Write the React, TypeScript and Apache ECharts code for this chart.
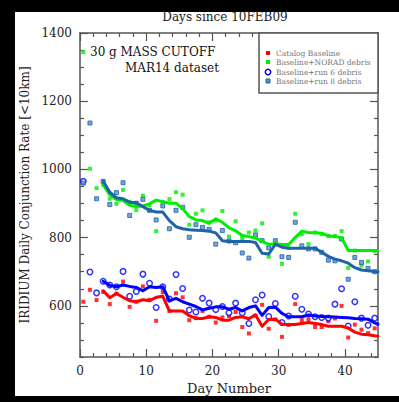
import React, { useEffect, useRef } from 'react';
import * as echarts from 'echarts';

const FONT = 'DejaVu Serif';

// x positions of daily samples (day + 0.5)
const days = [0.5, 1.5, 2.5, 3.5, 4.5, 5.5, 6.5, 7.5, 8.5, 9.5, 10.5, 11.5, 12.5, 13.5, 14.5, 15.5, 16.5, 17.5, 18.5, 19.5, 20.5, 21.5, 22.5, 23.5, 24.5, 25.5, 26.5, 27.5, 28.5, 29.5, 30.5, 31.5, 32.5, 33.5, 34.5, 35.5, 36.5, 37.5, 38.5, 39.5, 40.5, 41.5, 42.5, 43.5, 44.5];

const catalogPts = [612, 647, 617, 641, 605, 636, 671, 597, 612, 657, 618, 556, 640, 585, 637, 625, 558, 564, 585, 568, 551, 566, 570, 582, 538, 519, 571, 603, 533, 560, 509, 544, 605, 558, 560, 538, 538, 555, 563, 600, 507, 545, 530, 520, 534];
const noradPts = [1344, 1002, 945, 955, 914, 899, 940, 905, 881, 923, 895, 819, 905, 913, 933, 926, 838, 870, 880, 845, 850, 878, 803, 848, 799, 815, 821, 842, 744, 785, 723, 770, 870, 810, 781, 815, 810, 805, 805, 819, 711, 762, 718, 730, 760];
const run6Pts = [965, 699, 638, 672, 661, 656, 701, 628, 642, 693, 666, 595, 656, 620, 692, 651, 588, 582, 622, 608, 589, 598, 580, 608, 580, 548, 618, 632, 569, 607, 551, 570, 628, 590, 576, 568, 566, 564, 605, 650, 541, 612, 564, 543, 564];
const run8Pts = [960, 1136, 914, 965, 897, 932, 961, 865, 901, 912, 880, 852, 893, 826, 880, 889, 801, 838, 830, 824, 781, 821, 790, 785, 755, 740, 808, 791, 770, 791, 744, 742, 845, 776, 767, 767, 757, 734, 732, 796, 678, 742, 727, 710, 700];

// running-average curves
const lineDays = [3.5, 4.5, 5.5, 6.5, 7.5, 8.5, 9.5, 10.5, 11.5, 12.5, 13.5, 14.5, 15.5, 16.5, 17.5, 18.5, 19.5, 20.5, 21.5, 22.5, 23.5, 24.5, 25.5, 26.5, 27.5, 28.5, 29.5, 30.5, 31.5, 32.5, 33.5, 34.5, 35.5, 36.5, 37.5, 38.5, 39.5, 40.5, 41.5, 42.5, 43.5, 44.5, 45];
const catalogLine = [644, 624, 636, 625, 615, 612, 618, 615, 625, 628, 585, 585, 585, 571, 563, 563, 568, 566, 558, 558, 566, 568, 562, 574, 540, 560, 561, 546, 545, 545, 548, 551, 548, 545, 540, 540, 540, 535, 523, 517, 515, 512, 511];
const noradLine = [955, 925, 912, 909, 895, 891, 893, 899, 910, 905, 901, 901, 885, 862, 852, 850, 842, 855, 845, 829, 820, 806, 803, 799, 789, 780, 782, 780, 780, 800, 819, 815, 814, 813, 805, 803, 800, 762, 762, 762, 762, 762, 762];
const run6Line = [672, 660, 656, 661, 657, 654, 644, 656, 654, 656, 615, 622, 612, 605, 598, 588, 593, 597, 597, 590, 595, 585, 595, 600, 572, 595, 596, 578, 568, 568, 568, 573, 570, 569, 568, 567, 566, 565, 563, 562, 561, 550, 546];
const run8Line = [966, 933, 917, 914, 904, 902, 891, 880, 875, 875, 850, 832, 826, 823, 822, 821, 819, 814, 791, 789, 789, 789, 789, 786, 754, 752, 780, 772, 769, 769, 769, 769, 769, 757, 745, 737, 732, 725, 712, 705, 703, 701, 700];

const xMajor = [0, 10, 20, 30, 40];
const xMinor = [2, 4, 6, 8, 12, 14, 16, 18, 22, 24, 26, 28, 32, 34, 36, 38, 42, 44];
const yMajor = [600, 800, 1000, 1200, 1400];
const yMinor = [450, 500, 550, 650, 700, 750, 850, 900, 950, 1050, 1100, 1150, 1250, 1300, 1350];

const seriesNames = ['Catalog Baseline', 'Baseline+NORAD debris', 'Baseline+run 6 debris', 'Baseline+run 8 debris'];
const colors = ['#ff0000', '#00ee00', '#0000ff', '#1f64a8'];
const run8Fill = '#5a8fc6';

const AX = '#555';

function zip(xs: number[], ys: number[]) {
  return ys.map((y, i) => [xs[i], y]);
}

const plain = (v: number) => String(v);

function xAx(pos: 'top' | 'bottom', vals: number[], len: number, major: boolean) {
  return {
    type: 'value', min: 0, max: 45, position: pos,
    axisLine: { show: major, onZero: false, lineStyle: { color: AX, width: 1.5 } },
    axisTick: { show: true, inside: true, length: len, customValues: vals, lineStyle: { color: AX, width: 1.2 } },
    axisLabel: major && pos === 'bottom'
      ? { show: true, customValues: xMajor, formatter: plain, fontFamily: FONT, fontSize: 12, color: '#222', margin: 8 }
      : { show: false },
    splitLine: { show: false },
    ...(major && pos === 'bottom'
      ? { name: 'Day Number', nameLocation: 'middle', nameGap: 22, nameTextStyle: { fontFamily: FONT, fontSize: 13, color: '#222' } }
      : {}),
  };
}

function yAx(pos: 'left' | 'right', vals: number[], len: number, major: boolean) {
  return {
    type: 'value', min: 450, max: 1400, position: pos,
    axisLine: { show: major, onZero: false, lineStyle: { color: AX, width: 1.5 } },
    axisTick: { show: true, inside: true, length: len, customValues: vals, lineStyle: { color: AX, width: 1.2 } },
    axisLabel: major && pos === 'left'
      ? { show: true, customValues: yMajor, formatter: plain, fontFamily: FONT, fontSize: 12, color: '#222', margin: 8 }
      : { show: false },
    splitLine: { show: false },
    ...(major && pos === 'left'
      ? { name: 'IRIDIUM Daily Conjunction Rate [<10km]', nameLocation: 'middle', nameGap: 47, nameRotate: 90, nameTextStyle: { fontFamily: FONT, fontSize: 12, color: '#222' } }
      : {}),
  };
}

export default function App() {
  const ref = useRef<HTMLDivElement>(null);
  useEffect(() => {
    document.body.style.margin = '0';
    const chart = echarts.init(ref.current!, undefined, { renderer: 'svg' });
    const legendY = [53, 62, 72, 81];
    const option = {
      animation: false,
      backgroundColor: '#ffffff',
      grid: { left: 80, right: 21, top: 33, bottom: 45 },
      xAxis: [
        xAx('bottom', xMajor, 8, true),
        xAx('bottom', xMinor, 4, false),
        xAx('top', xMajor, 8, true),
        xAx('top', xMinor, 4, false),
      ],
      yAxis: [
        yAx('left', yMajor, 8, true),
        yAx('left', yMinor, 4, false),
        yAx('right', yMajor, 8, true),
        yAx('right', yMinor, 4, false),
      ],
      series: [
        { type: 'scatter', name: seriesNames[0], data: zip(days, catalogPts), symbol: 'rect', symbolSize: 4, itemStyle: { color: colors[0] }, z: 2 },
        { type: 'scatter', name: seriesNames[1], data: zip(days, noradPts), symbol: 'rect', symbolSize: 4, itemStyle: { color: colors[1] }, z: 2 },
        { type: 'scatter', name: seriesNames[2], data: zip(days, run6Pts), symbol: 'circle', symbolSize: 5.5, itemStyle: { color: '#ffffff', borderColor: colors[2], borderWidth: 1.5 }, z: 2 },
        { type: 'scatter', name: seriesNames[3], data: zip(days, run8Pts), symbol: 'rect', symbolSize: 4, itemStyle: { color: run8Fill, borderColor: colors[3], borderWidth: 1 }, z: 2 },
        { type: 'line', data: zip(lineDays, catalogLine), showSymbol: false, lineStyle: { color: colors[0], width: 3, cap: 'round', join: 'round' }, z: 3 },
        { type: 'line', data: zip(lineDays, noradLine), showSymbol: false, lineStyle: { color: colors[1], width: 3, cap: 'round', join: 'round' }, z: 3 },
        { type: 'line', data: zip(lineDays, run6Line), showSymbol: false, lineStyle: { color: colors[2], width: 3, cap: 'round', join: 'round' }, z: 3 },
        { type: 'line', data: zip(lineDays, run8Line), showSymbol: false, lineStyle: { color: colors[3], width: 3, cap: 'round', join: 'round' }, z: 3 },
      ],
      graphic: [
        { type: 'text', x: 225, y: 17, style: { text: 'Days since 10FEB09', fontFamily: FONT, fontSize: 12, fill: '#222', textAlign: 'center', textVerticalAlign: 'middle' } },
        { type: 'text', x: 90, y: 52, style: { text: '30 g MASS CUTOFF', fontFamily: FONT, fontSize: 12, fill: '#111', textAlign: 'left', textVerticalAlign: 'middle' } },
        { type: 'text', x: 125, y: 68, style: { text: 'MAR14 dataset', fontFamily: FONT, fontSize: 12, fill: '#111', textAlign: 'left', textVerticalAlign: 'middle' } },
        { type: 'rect', shape: { x: 259, y: 33, width: 119, height: 60 }, style: { fill: '#fff', stroke: AX, lineWidth: 1.5 }, z: 10 },
        { type: 'rect', shape: { x: 266, y: legendY[0] - 2, width: 4, height: 4 }, style: { fill: colors[0] }, z: 11 },
        { type: 'rect', shape: { x: 266, y: legendY[1] - 2, width: 4, height: 4 }, style: { fill: colors[1] }, z: 11 },
        { type: 'circle', shape: { cx: 268, cy: legendY[2], r: 2.7 }, style: { fill: '#fff', stroke: colors[2], lineWidth: 1.5 }, z: 11 },
        { type: 'rect', shape: { x: 266, y: legendY[3] - 2, width: 4, height: 4 }, style: { fill: run8Fill, stroke: colors[3], lineWidth: 1 }, z: 11 },
        ...seriesNames.map((n, i) => ({ type: 'text', x: 276, y: legendY[i], style: { text: n, fontFamily: FONT, fontSize: 7.5, fill: '#777', textAlign: 'left', textVerticalAlign: 'middle' }, z: 11 })),
        { type: 'rect', shape: { x: 0, y: 0, width: 399, height: 12 }, style: { fill: '#000' }, z: 20 },
        { type: 'rect', shape: { x: 0, y: 0, width: 15, height: 402 }, style: { fill: '#000' }, z: 20 },
        { type: 'rect', shape: { x: 0, y: 396, width: 399, height: 6 }, style: { fill: '#000' }, z: 20 },
      ],
    };
    chart.setOption(option as any);
    return () => chart.dispose();
  }, []);
  return <div ref={ref} style={{ width: 399, height: 402 }} />;
}
